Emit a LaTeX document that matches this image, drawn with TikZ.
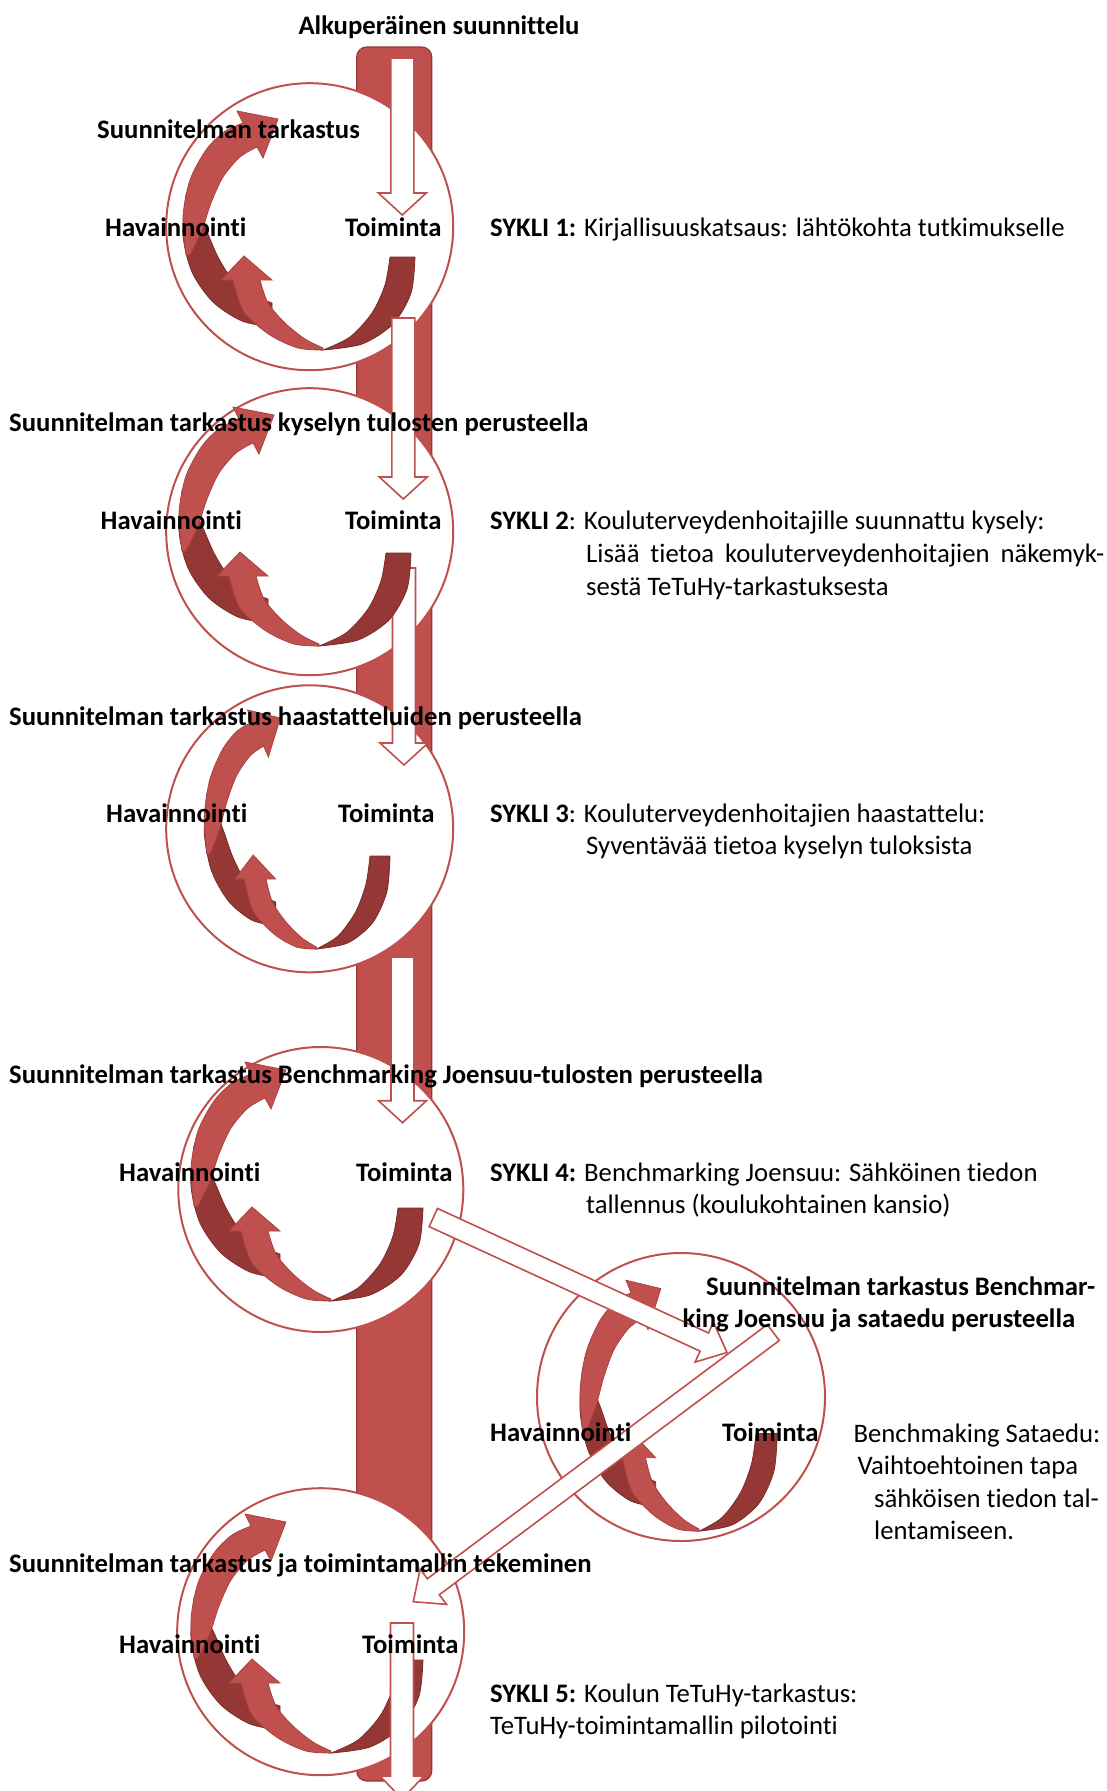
\documentclass[tikz,border=0pt]{standalone}
\usepackage{fontspec}
\setmainfont{Carlito}[Ligatures=NoCommon]
\usetikzlibrary{calc}
\definecolor{redA}{HTML}{C0504D}
\definecolor{redD}{HTML}{953735}
\definecolor{redL}{HTML}{A8433F}
\definecolor{redDO}{HTML}{7A2C2A}
\tikzset{
  barshape/.style={fill=redA,draw=redD,line width=1.2pt,rounded corners=10pt},
  ring/.style={circle,draw=redA,line width=2pt,fill=white,inner sep=0pt,minimum size=#1},
  blk/.style={draw=redA,fill=white,line width=1.6pt,line join=miter},
  lt/.style={fill=redA,draw=redL,line width=0.8pt},
  dk/.style={fill=redD,draw=redDO,line width=0.8pt},
  lbl/.style={font=\fontsize{26.7}{32}\selectfont\bfseries,inner sep=0pt,anchor=base west},
  txt/.style={font=\fontsize{26.7}{32}\selectfont,inner sep=0pt,anchor=base west}
}
\newcommand\blkarr[5]{%
  \coordinate (hb) at ($(#2)!#5!(#1)$);
  \draw[blk] ($(#1)!#3!90:(#2)$) -- ($(hb)!#3!90:(#2)$) -- ($(hb)!#4!90:(#2)$) -- (#2)
     -- ($(hb)!#4!-90:(#2)$) -- ($(hb)!#3!-90:(#2)$) -- ($(#1)!#3!-90:(#2)$) -- cycle;}
\newcommand\cyc[3][]{%
  \begin{scope}[shift={(#2,#3)},#1]
    % arrow A dark part
    \filldraw[dk] plot[smooth] coordinates {(-124,-32) (-127,8) (-118,45) (-97,75) (-68,94) (-38,100)}
      -- (-38,76) -- plot[smooth] coordinates {(-38,76) (-58,68) (-78,52) (-92,30) (-103,5) (-113,-15) (-124,-32)} -- cycle;
    % arrow B dark part
    \filldraw[dk] (80,30) -- plot[smooth] coordinates {(105,30) (101,66) (83,97) (52,117) (13,123)}
      -- plot[smooth] coordinates {(13,123) (40,110) (62,86) (75,58) (80,30)} -- cycle;
    % arrow A light part
    \filldraw[lt] plot[smooth] coordinates {(-124,28) (-127,-10) (-120,-47) (-104,-77) (-86,-95) (-67,-104)}
      -- (-73,-116) -- (-32,-108) -- (-47,-69) -- (-53,-80)
      -- plot[smooth] coordinates {(-53,-80) (-70,-70) (-87,-50) (-99,-24) (-108,3) (-120,28)} -- cycle;
    % arrow B light part
    \filldraw[lt] plot[smooth] coordinates {(13,123) (-12,121) (-40,108) (-66,85) (-77,53)}
      -- (-89,53) -- (-66,29) -- (-38,53) -- (-50,53)
      -- plot[smooth] coordinates {(-50,53) (-42,76) (-25,96) (-5,112) (13,121)} -- cycle;
  \end{scope}}
\begin{document}
\begin{tikzpicture}[x=1pt,y=-1pt]
\useasboundingbox (0,0) rectangle (1107,1791);
\begin{scope}
\clip (0,0) rectangle (1107,1791);
% vertical bar
\draw[barshape] (356.7,47) rectangle (431.7,1781);
% circles
\node[ring=287pt] (c1) at (309.7,226.7) {};
\node[ring=287pt] (c2) at (309.7,531.7) {};
\node[ring=287pt] (c3) at (309.7,828.8) {};
\node[ring=285pt] (c4) at (320.8,1189.5) {};
\node[ring=288pt] (c5) at (681,1397) {};
\node[ring=287pt] (c6) at (320.7,1631.7) {};
% arrow from cycle 2 to cycle 3 (below cycle 2 arrows)
\coordinate (a3s) at (404,568);
\coordinate (a3t) at (404,765);
\blkarr{a3s}{a3t}{11.5pt}{24pt}{22pt}
% cycle arrows
\cyc{310}{227}
\cyc{306}{523}
\cyc[xscale=0.8]{306}{826}
\cyc{318}{1178}
\cyc[xscale=0.85,yscale=1.05]{688}{1402}
\cyc{318}{1630}
% block arrows
\coordinate (a1s) at (402.3,58);
\coordinate (a1t) at (402.3,215);
\blkarr{a1s}{a1t}{11.5pt}{24pt}{22pt}
\coordinate (a2s) at (403.3,318);
\coordinate (a2t) at (403.3,499);
\blkarr{a2s}{a2t}{11.5pt}{24pt}{22pt}
\coordinate (a4s) at (402.5,957);
\coordinate (a4t) at (402.5,1122.7);
\blkarr{a4s}{a4t}{11.5pt}{24pt}{22pt}
\coordinate (d1s) at (433.3,1217.5);
\coordinate (d1t) at (727,1352.5);
\blkarr{d1s}{d1t}{10pt}{22pt}{25pt}
\coordinate (d2s) at (773.3,1332.5);
\coordinate (d2t) at (413.3,1601.7);
\blkarr{d2s}{d2t}{10pt}{22pt}{25pt}
\coordinate (a6s) at (402,1623);
\coordinate (a6t) at (402,1799);
\blkarr{a6s}{a6t}{11.5pt}{22pt}{23pt}
\end{scope}
% texts
\node[lbl] (t0) at (298.3,34) {Alkuperäinen suunnittelu};
\node[lbl] (r1) at (97,138) {Suunnitelman tarkastus};
\node[lbl] (h1) at (105,236) {Havainnointi};
\node[lbl] (o1) at (345,236) {Toiminta};
\node[txt] (s1) at (490,236) {\textbf{SYKLI 1:} Kirjallisuuskatsaus: lähtökohta tutkimukselle};
\node[lbl] (r2) at (9,431.5) {Suunnitelman tarkastus kyselyn tulosten perusteella};
\node[lbl] (h2) at (100.5,529) {Havainnointi};
\node[lbl] (o2) at (345,529) {Toiminta};
\node[txt] (s2) at (490,529) {\textbf{SYKLI 2}: Kouluterveydenhoitajille suunnattu kysely:};
\node[txt] (s2b) at (586,562) {\makebox[518pt][s]{Lisää tietoa kouluterveydenhoitajien näkemyk-}};
\node[txt] (s2c) at (586,595) {sestä TeTuHy-tarkastuksesta};
\node[lbl] (r3) at (9,725) {Suunnitelman tarkastus haastatteluiden perusteella};
\node[lbl] (h3) at (106,822) {Havainnointi};
\node[lbl] (o3) at (338,822) {Toiminta};
\node[txt] (s3) at (490,822) {\textbf{SYKLI 3}: Kouluterveydenhoitajien haastattelu:};
\node[txt] (s3b) at (586,854) {Syventävää tietoa kyselyn tuloksista};
\node[lbl] (r4) at (9,1083) {Suunnitelman tarkastus Benchmarking Joensuu-tulosten perusteella};
\node[lbl] (h4) at (119,1181) {Havainnointi};
\node[lbl] (o4) at (356,1181) {Toiminta};
\node[txt] (s4) at (490,1181) {\textbf{SYKLI 4:} Benchmarking Joensuu: Sähköinen tiedon};
\node[txt] (s4b) at (586,1213) {tallennus (koulukohtainen kansio)};
\node[lbl] (r5) at (706,1295.5) {Suunnitelman tarkastus Benchmar-};
\node[lbl] (r5b) at (682.3,1327) {king Joensuu ja sataedu perusteella};
\node[lbl] (h5) at (490,1441.5) {Havainnointi};
\node[lbl] (o5) at (722,1441.5) {Toiminta};
\node[txt] (b5) at (853.3,1442) {Benchmaking Sataedu:};
\node[txt] (b5b) at (857.3,1474) {Vaihtoehtoinen tapa};
\node[txt] (b5c) at (874,1507) {sähköisen tiedon tal-};
\node[txt] (b5d) at (874,1539) {lentamiseen.};
\node[lbl] (r6) at (9,1572) {Suunnitelman tarkastus ja toimintamallin tekeminen};
\node[lbl] (h6) at (119,1653) {Havainnointi};
\node[lbl] (o6) at (362,1653) {Toiminta};
\node[txt] (s6) at (490,1702) {\textbf{SYKLI 5:} Koulun TeTuHy-tarkastus:};
\node[txt] (s6b) at (490,1734) {TeTuHy-toimintamallin pilotointi};
\end{tikzpicture}
\end{document}
